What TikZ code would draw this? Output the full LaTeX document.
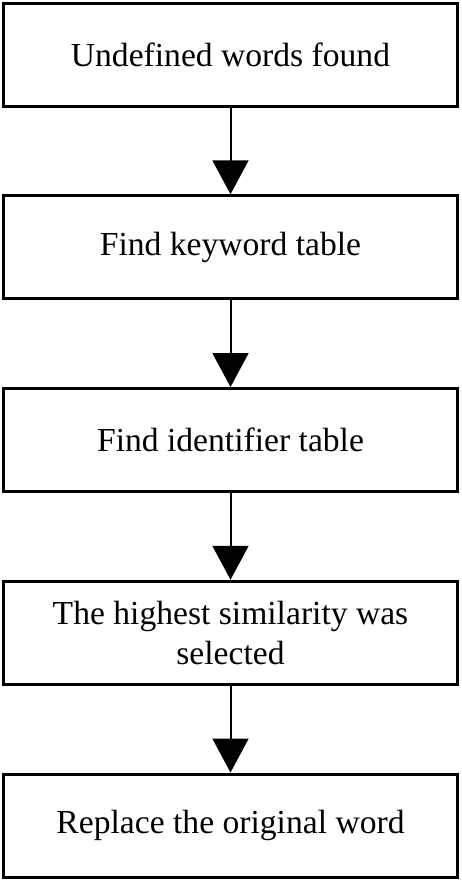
\documentclass[tikz,border=0pt]{standalone}
\usepackage{fontspec}
\setmainfont{Liberation Serif}
\usepackage{tikz}
\usetikzlibrary{arrows.meta, positioning}
\tikzstyle{process} = [rectangle, minimum width=454pt, minimum height=103pt, text centered, align=center, draw=black, line width=3pt, font=\fontsize{33.6}{40}\selectfont]
\tikzstyle{arrow} = [line width=2pt, -{Triangle[width=36pt,length=34pt]}]

\begin{document}
\begin{tikzpicture}[node distance=86.75pt, x=1pt, y=1pt]
	\useasboundingbox (0,0) rectangle (461,-881);

	% Nodes of the flow
	\node (found) [process] at (230.5,-54.5) {Undefined words found};
	\node (keyword) [process, below=of found] {Find keyword table};
	\node (identifier) [process, below=of keyword] {Find identifier table};
	\node (similar) [process, below=of identifier] {The highest similarity was\\selected};
	\node (replace) [process, below=of similar] {Replace the original word};

	% Arrows of the flow
	\draw [arrow] (found) -- (keyword);
	\draw [arrow] (keyword) -- (identifier);
	\draw [arrow] (identifier) -- (similar);
	\draw [arrow] (similar) -- (replace);

\end{tikzpicture}
\end{document}
